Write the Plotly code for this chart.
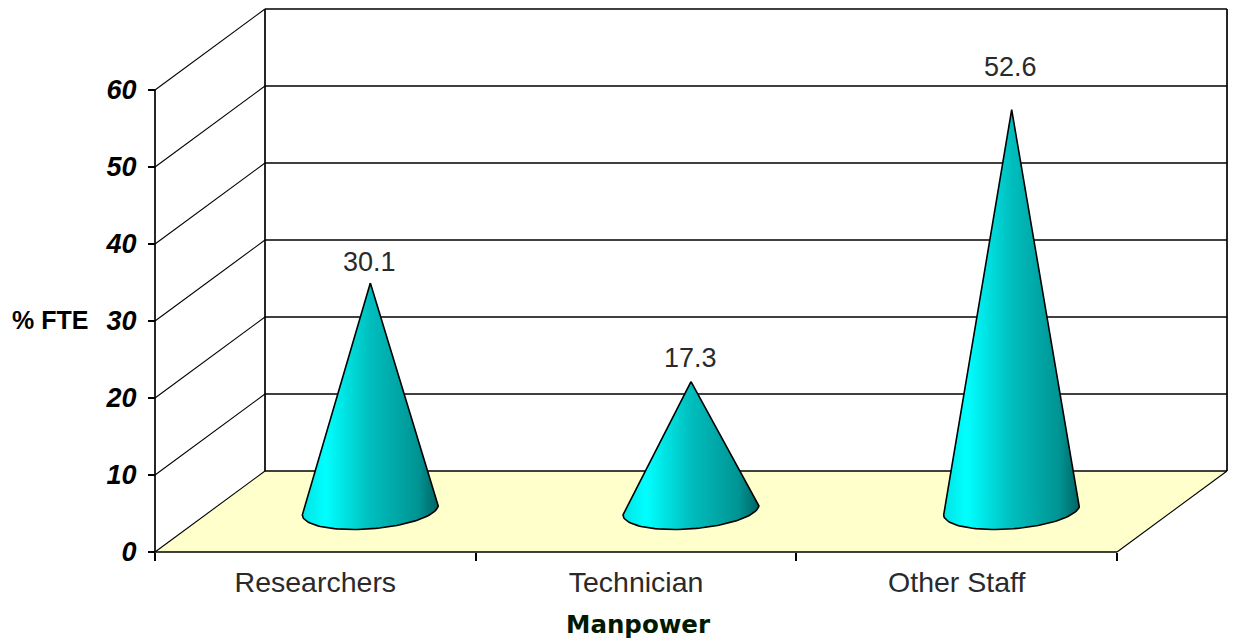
import numpy as np
import plotly.graph_objects as go

# Chart content
categories = ["Researchers", "Technician", "Other Staff"]
values = [30.1, 17.3, 52.6]
y_ticks = [0, 10, 20, 30, 40, 50, 60]
x_title = "Manpower"
y_title = "% FTE"

# Canvas and oblique projection of the 3D box
WIDTH, HEIGHT = 1233, 638
ORIGIN_PX = (155.0, 552.0)
PX_PER_CATEGORY = 320.67
PX_PER_UNIT = 7.7
DEPTH_X = 110.0 / PX_PER_CATEGORY   # full box depth, in x-axis units
DEPTH_Y = 81.0 / PX_PER_UNIT        # full box depth, in y-axis units
N_CAT = len(categories)
Y_MAX = max(y_ticks)

INK = "#000000"
TEXT = "#2A2A2A"
FLOOR = "#FFFFCC"
CONE_SCALE = [
    [0.00, "#00E4E4"],
    [0.17, "#00FFFF"],
    [0.50, "#00BEBE"],
    [0.85, "#009494"],
    [1.00, "#006464"],
]
LABEL_LIFT = [21, 24, 43]   # pixels between each apex and its value label


def project(x, y, depth=0.0):
    """Map a box position to axis coordinates; depth 0 is front, 1 is back."""
    return x + DEPTH_X * depth, y + DEPTH_Y * depth


def segment(x0, y0, d0, x1, y1, d1, width):
    a, b = project(x0, y0, d0), project(x1, y1, d1)
    return go.Scatter(x=[a[0], b[0]], y=[a[1], b[1]], mode="lines",
                      line=dict(color=INK, width=width),
                      hoverinfo="skip", showlegend=False)


fig = go.Figure()

# Floor
corners = [project(0, 0, 0), project(N_CAT, 0, 0), project(N_CAT, 0, 1), project(0, 0, 1)]
fig.add_trace(go.Scatter(
    x=[c[0] for c in corners] + [corners[0][0]],
    y=[c[1] for c in corners] + [corners[0][1]],
    mode="lines", fill="toself", fillcolor=FLOOR, line=dict(width=0),
    hoverinfo="skip", showlegend=False))

# Back wall and side wall rules
for tick in y_ticks:
    fig.add_trace(segment(0, tick, 1, N_CAT, tick, 1, 1.7))
    fig.add_trace(segment(0, tick, 0, 0, tick, 1, 1.1))

# Box edges
fig.add_trace(segment(0, 0, 0, 0, Y_MAX, 0, 1.7))
fig.add_trace(segment(0, 0, 1, 0, Y_MAX, 1, 1.7))
fig.add_trace(segment(N_CAT, 0, 1, N_CAT, Y_MAX, 1, 1.7))
fig.add_trace(segment(0, 0, 0, N_CAT, 0, 0, 1.7))
fig.add_trace(segment(N_CAT, 0, 0, N_CAT, 0, 1, 1.1))

# Cones: sheared ellipse for the base, apex at the series value
BASE_DEPTH = 0.52
APEX_DEPTH = 0.46
RADIUS_X = 68.0 / PX_PER_CATEGORY
RADIUS_Y = 19.0 / PX_PER_UNIT
SHEAR_Y = 5.0 / PX_PER_UNIT

annotations = []
for i, v in enumerate(values):
    cx, _ = project(i + 0.5, 0, 0.5)
    _, base_y = project(0, 0, BASE_DEPTH)
    _, tip_floor = project(0, 0, APEX_DEPTH)
    tip_y = tip_floor + v
    t = np.linspace(0, np.pi, 60)
    arc_x = cx + RADIUS_X * np.cos(t)
    arc_y = base_y - RADIUS_Y * np.sin(t) + SHEAR_Y * np.cos(t)
    xs = np.concatenate(([cx], arc_x, [cx]))
    ys = np.concatenate(([tip_y], arc_y, [tip_y]))
    fig.add_trace(go.Scatter(
        x=xs, y=ys, mode="lines", fill="toself",
        fillgradient=dict(type="horizontal", colorscale=CONE_SCALE),
        line=dict(color=INK, width=1.6),
        name=categories[i], hoverinfo="skip", showlegend=False))
    annotations.append(dict(
        text=f"{v:.1f}", x=cx, y=tip_y, xref="x", yref="y", xshift=-1,
        yshift=LABEL_LIFT[i], xanchor="center", yanchor="middle", showarrow=False,
        font=dict(family="Liberation Sans", size=27, color=TEXT)))

annotations += [
    dict(text=y_title, xref="paper", yref="paper", x=50 / WIDTH, y=1 - 320 / HEIGHT,
         xanchor="center", yanchor="middle", showarrow=False,
         font=dict(family="Liberation Sans", size=25, color=INK, weight="bold")),
    dict(text=x_title, xref="paper", yref="paper", x=638 / WIDTH, y=1 - 624 / HEIGHT,
         xanchor="center", yanchor="middle", showarrow=False,
         font=dict(family="DejaVu Sans", size=24.5, color="#001A00", weight="bold")),
]

fig.update_layout(
    width=WIDTH, height=HEIGHT, autosize=False,
    margin=dict(l=0, r=0, t=0, b=0),
    paper_bgcolor="white", plot_bgcolor="white",
    showlegend=False,
    xaxis=dict(
        range=[-ORIGIN_PX[0] / PX_PER_CATEGORY, (WIDTH - ORIGIN_PX[0]) / PX_PER_CATEGORY],
        anchor="free", position=(HEIGHT - ORIGIN_PX[1]) / HEIGHT,
        showgrid=False, zeroline=False, showline=False,
        tickmode="array",
        tickvals=[i + 0.5 for i in range(N_CAT)], ticktext=categories,
        ticks="", ticklabelstandoff=10,
        tickfont=dict(family="Liberation Sans", size=28.5, color=TEXT),
        minor=dict(tickmode="array", tickvals=list(range(N_CAT + 1)),
                   ticks="outside", ticklen=8, tickwidth=1.5, tickcolor=INK, showgrid=False),
    ),
    yaxis=dict(
        range=[-(HEIGHT - ORIGIN_PX[1]) / PX_PER_UNIT, ORIGIN_PX[1] / PX_PER_UNIT],
        anchor="free", position=ORIGIN_PX[0] / WIDTH,
        showgrid=False, zeroline=False, showline=False,
        tickmode="array", tickvals=y_ticks, ticktext=[str(t) for t in y_ticks],
        ticks="outside", ticklen=7, tickwidth=1.5, tickcolor=INK,
        ticklabelstandoff=6,
        tickfont=dict(family="Liberation Sans", size=27, color=INK, weight="bold", style="italic"),
    ),
    annotations=annotations,
)

fig.write_html("out.html")
